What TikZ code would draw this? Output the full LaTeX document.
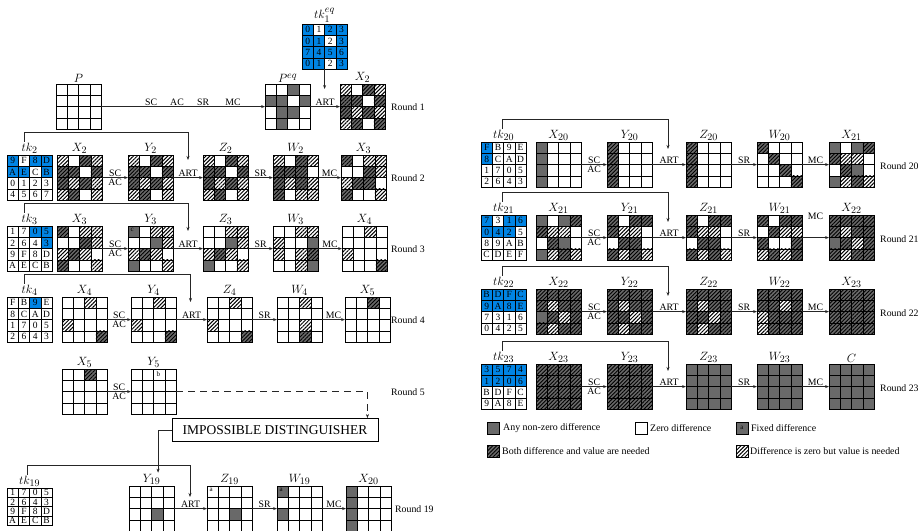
\documentclass[tikz,border=0pt]{standalone}
\usepackage{fontspec}
\setmainfont{Liberation Serif}
\DeclareMathSizes{12.5}{12.5}{10}{8}
\usetikzlibrary{patterns.meta,arrows.meta,calc}
\definecolor{kblue}{RGB}{0,132,228}
\definecolor{cgray}{RGB}{105,105,105}
\tikzset{
  cellbase/.style={draw=black, line width=0.75pt, minimum width=11.3pt, minimum height=11.3pt, inner sep=0pt, outer sep=0pt, anchor=north west, font=\fontsize{9.5}{10}\selectfont},
  cW/.style={cellbase, fill=white},
  cG/.style={cellbase, fill=cgray},
  cD/.style={cellbase, preaction={fill=cgray}, pattern={Lines[angle=45,distance=2.7pt,line width=0.9pt]}, pattern color=black},
  cH/.style={cellbase, preaction={fill=white}, pattern={Lines[angle=45,distance=2.7pt,line width=1pt]}, pattern color=black},
  kB/.style={cellbase, fill=kblue},
  kW/.style={cellbase, fill=white},
  gridbox/.style={draw=black, line width=0.9pt, minimum size=45.2pt, inner sep=0pt, outer sep=0pt},
  glabel/.style={anchor=south, inner sep=1.2pt, font=\fontsize{12.5}{13}\selectfont},
  arr/.style={draw=black!85, line width=0.6pt, -{Stealth[length=4pt,width=3pt]}},
  lab/.style={font=\fontsize{9.8}{10}\selectfont, inner sep=1pt},
  roundlbl/.style={anchor=west, font=\fontsize{9.8}{10}\selectfont, inner sep=0pt},
  fixlbl/.style={font=\fontsize{7}{7}\selectfont, inner sep=0pt},
  legtext/.style={anchor=west, font=\fontsize{9.9}{10}\selectfont, inner sep=0pt},
  legbox/.style={minimum width=12pt, minimum height=12pt, anchor=west},
  impbox/.style={draw=black, line width=0.9pt, minimum width=206pt, minimum height=23pt, inner sep=0pt, font=\fontsize{13.5}{14}\selectfont},
}
\newcommand\stategrid[4]{%
  \foreach \cd [count=\i from 0] in {#4} {%
    \pgfmathtruncatemacro\rr{\i/4}%
    \pgfmathtruncatemacro\cc{\i-4*\rr}%
    \node[c\cd] (#1-\rr\cc) at ({#2+\cc*11.3},{#3+\rr*11.3}) {};%
  }%
  \node[gridbox] (#1) at ({#2+22.6},{#3+22.6}) {};%
}
\newcommand\keygrid[5]{%
  \foreach \ks/\kt [count=\i from 0] in {#5} {%
    \pgfmathtruncatemacro\rr{\i/4}%
    \pgfmathtruncatemacro\cc{\i-4*\rr}%
    \node[k\ks, minimum height=#4pt] (#1-\rr\cc) at ({#2+\cc*11.3},{#3+\rr*#4}) {\kt};%
  }%
  \node[draw=black, line width=0.9pt, minimum width=45.2pt, minimum height={4*#4pt}, inner sep=0pt, outer sep=0pt] (#1) at ({#2+22.6},{#3+2*#4}) {};%
}
\newcommand\glab[2]{\node[glabel] (#1l) at (#1.north) {#2};}
\begin{document}
\begin{tikzpicture}[x=1pt,y=-1pt]
\useasboundingbox (0,0) rectangle (920,530);
% ---------------- Round 1
\keygrid{tk1}{302}{24}{11.3}{B/0,W/1,B/2,B/3,B/0,B/1,W/2,B/3,B/7,B/4,B/5,B/6,B/0,B/1,W/2,B/3}
\glab{tk1}{$tk_1^{eq}$}
\stategrid{P}{56}{84}{W,W,W,W,W,W,W,W,W,W,W,W,W,W,W,W}
\glab{P}{$P$}
\stategrid{Peq}{265}{84}{W,W,G,W,G,G,W,G,W,G,G,W,W,G,W,W}
\glab{Peq}{$P^{eq}$}
\stategrid{Xa}{340}{84}{H,W,D,H,D,D,W,D,D,H,D,H,H,D,W,D}
\glab{Xa}{$X_2$}
\draw[arr] (P) -- node[lab,above,pos=0.305]{SC} node[lab,above,pos=0.463]{AC} node[lab,above,pos=0.622]{SR} node[lab,above,pos=0.805]{MC} (Peq);
\draw[arr] (Peq) -- node[lab,above]{ART} (Xa);
\coordinate (k1) at (324.6,89);
\draw[arr] (tk1) -- (k1);
\node[roundlbl] (r1) at (391,107) {Round 1};
% ---------------- Round 2
\keygrid{tk2}{7}{155}{11.3}{B/9,W/F,B/8,B/D,B/A,B/E,W/C,B/B,W/0,W/1,W/2,W/3,W/4,W/5,W/6,W/7}
\glab{tk2}{$tk_2$}
\stategrid{Xb}{57}{155}{H,W,D,H,D,D,W,D,D,H,D,H,H,D,W,H}
\glab{Xb}{$X_2$}
\stategrid{Yb}{128}{155}{H,W,D,H,D,D,W,D,D,H,D,H,H,D,W,H}
\glab{Yb}{$Y_2$}
\stategrid{Zb}{203}{155}{H,W,D,H,D,D,W,D,D,H,D,H,H,D,W,H}
\glab{Zb}{$Z_2$}
\stategrid{Wb}{273}{155}{H,W,D,H,D,D,D,W,D,H,D,H,D,W,H,H}
\glab{Wb}{$W_2$}
\stategrid{Xc}{341}{155}{D,W,H,H,W,W,D,H,H,D,D,W,D,W,W,H}
\glab{Xc}{$X_3$}
\draw[arr] (Xb) -- node[lab,above]{SC} node[lab,below]{AC} (Yb);
\draw[arr] (Yb) -- node[lab,above]{ART} (Zb);
\draw[arr] (Zb) -- node[lab,above]{SR} (Wb);
\draw[arr] (Wb) -- node[lab,above]{MC} (Xc);
\coordinate (k2) at (188,160);
\draw[arr] ([xshift=-5.5pt]tk2l.north) -- ++(0,-9) -| (k2);
\node[roundlbl] (r2) at (391,178) {Round 2};
% ---------------- Round 3
\keygrid{tk3}{7}{226}{11.3}{W/1,W/7,B/0,B/5,W/2,W/6,W/4,B/3,W/9,W/F,W/8,W/D,W/A,W/E,W/C,W/B}
\glab{tk3}{$tk_3$}
\stategrid{Xd}{57}{226}{D,W,H,H,W,W,D,H,H,D,H,W,D,W,W,H}
\glab{Xd}{$X_3$}
\stategrid{Yd}{128}{226}{G,W,H,H,W,W,G,H,H,D,H,W,G,W,W,H}
\glab{Yd}{$Y_3$}
\node[fixlbl] at ([xshift=-1.5pt,yshift=1.5pt]Yd-00.center) {c};
\stategrid{Zd}{203}{226}{W,W,H,H,W,W,G,H,H,D,H,W,G,W,W,H}
\glab{Zd}{$Z_3$}
\stategrid{Wd}{273}{226}{W,W,H,H,H,W,W,G,H,W,H,D,W,W,H,G}
\glab{Wd}{$W_3$}
\stategrid{Xe}{342}{226}{W,W,H,W,W,W,W,W,H,W,W,W,W,W,W,D}
\glab{Xe}{$X_4$}
\draw[arr] (Xd) -- node[lab,above]{SC} node[lab,below]{AC} (Yd);
\draw[arr] (Yd) -- node[lab,above]{ART} (Zd);
\draw[arr] (Zd) -- node[lab,above]{SR} (Wd);
\draw[arr] (Wd) -- node[lab,above]{MC} (Xe);
\coordinate (k3) at (188,231);
\draw[arr] ([xshift=-5.5pt]tk3l.north) -- ++(0,-9) -| (k3);
\node[roundlbl] (r3) at (391,249) {Round 3};
% ---------------- Round 4
\keygrid{tk4}{7}{297}{11.3}{W/F,W/B,B/9,W/E,W/8,W/C,W/A,W/D,W/1,W/7,W/0,W/5,W/2,W/6,W/4,W/3}
\glab{tk4}{$tk_4$}
\stategrid{Xf}{62}{297}{W,W,H,W,W,W,W,W,H,W,W,W,W,W,W,D}
\glab{Xf}{$X_4$}
\stategrid{Yf}{131}{297}{W,W,H,W,W,W,W,W,H,W,W,W,W,W,W,D}
\glab{Yf}{$Y_4$}
\stategrid{Zf}{207}{297}{W,W,H,W,W,W,W,W,H,W,W,W,W,W,W,D}
\glab{Zf}{$Z_4$}
\stategrid{Wf}{277}{297}{W,W,H,W,W,W,W,W,W,W,H,W,W,W,D,W}
\glab{Wf}{$W_4$}
\stategrid{Xg}{345}{297}{W,W,D,W,W,W,W,W,W,W,W,W,W,W,W,W}
\glab{Xg}{$X_5$}
\draw[arr] (Xf) -- node[lab,above]{SC} node[lab,below]{AC} (Yf);
\draw[arr] (Yf) -- node[lab,above]{ART} (Zf);
\draw[arr] (Zf) -- node[lab,above]{SR} (Wf);
\draw[arr] (Wf) -- node[lab,above]{MC} (Xg);
\coordinate (k4) at (190.5,302);
\draw[arr] ([xshift=-5.5pt]tk4l.north) -- ++(0,-9) -| (k4);
\node[roundlbl] (r4) at (391,320) {Round 4};
% ---------------- Round 5
\stategrid{Xh}{62}{369}{W,W,D,W,W,W,W,W,W,W,W,W,W,W,W,W}
\glab{Xh}{$X_5$}
\stategrid{Yh}{131}{369}{W,W,W,W,W,W,W,W,W,W,W,W,W,W,W,W}
\glab{Yh}{$Y_5$}
\node[fixlbl] at ([xshift=-1pt,yshift=1pt]Yh-02.center) {b};
\draw[arr] (Xh) -- node[lab,above]{SC} node[lab,below]{AC} (Yh);
\node[roundlbl] (r5) at (391,392) {Round 5};
\node[impbox] (imp) at (275,430) {IMPOSSIBLE DISTINGUISHER};
\draw[arr, dash pattern=on 7pt off 5pt] (Yh) -| ([xshift=-11pt]imp.north east);
% ---------------- Round 19
\keygrid{tk19}{7}{488}{9.3}{W/1,W/7,W/0,W/5,W/2,W/6,W/4,W/3,W/9,W/F,W/8,W/D,W/A,W/E,W/C,W/B}
\glab{tk19}{$tk_{19}$}
\stategrid{Ys}{129}{486}{W,W,W,W,W,W,W,W,W,W,G,W,W,W,W,W}
\glab{Ys}{$Y_{19}$}
\stategrid{Zs}{207}{486}{W,W,W,W,W,W,W,W,W,W,G,W,W,W,W,W}
\glab{Zs}{$Z_{19}$}
\node[fixlbl] at ([xshift=-1.5pt,yshift=1.5pt]Zs-00.center) {a};
\stategrid{Ws}{277}{486}{G,W,W,W,W,W,W,W,G,W,W,W,W,W,W,W}
\glab{Ws}{$W_{19}$}
\node[fixlbl] at ([xshift=-1.5pt,yshift=1.5pt]Ws-00.center) {a};
\stategrid{Xt}{346}{486}{G,W,W,W,G,W,W,W,G,W,W,W,G,W,W,W}
\glab{Xt}{$X_{20}$}
\draw[arr] (imp.west) -| ([xshift=6.5pt]Ysl.north);
\draw[arr] (Ys) -- node[lab,above]{ART} (Zs);
\draw[arr] (Zs) -- node[lab,above]{SR} (Ws);
\draw[arr] (Ws) -- node[lab,above]{MC} (Xt);
\coordinate (k19) at (190,497);
\draw[arr] ([xshift=-2.5pt]tk19l.north) -- ++(0,-9) -| (k19);
\node[roundlbl] (r19) at (395,509) {Round 19};
% ---------------- Round 20
\keygrid{tk20}{481}{142}{11.3}{B/F,W/B,W/9,W/E,B/8,W/C,W/A,W/D,W/1,W/7,W/0,W/5,W/2,W/6,W/4,W/3}
\glab{tk20}{$tk_{20}$}
\stategrid{Xu}{536}{142}{G,W,W,W,G,W,W,W,G,W,W,W,G,W,W,W}
\glab{Xu}{$X_{20}$}
\stategrid{Yu}{607}{142}{D,W,W,W,D,W,W,W,D,W,W,W,D,W,W,W}
\glab{Yu}{$Y_{20}$}
\stategrid{Zu}{686}{142}{D,W,W,W,D,W,W,W,D,W,W,W,D,W,W,W}
\glab{Zu}{$Z_{20}$}
\stategrid{Wu}{757}{142}{D,W,W,W,W,D,W,W,W,W,D,W,W,W,W,D}
\glab{Wu}{$W_{20}$}
\stategrid{Xv}{829}{142}{G,W,G,D,D,H,H,W,W,D,G,W,G,H,D,H}
\glab{Xv}{$X_{21}$}
\draw[arr] (Xu) -- node[lab,above]{SC} node[lab,below]{AC} (Yu);
\draw[arr] (Yu) -- node[lab,above]{ART} (Zu);
\draw[arr] (Zu) -- node[lab,above]{SR} (Wu);
\draw[arr] (Wu) -- node[lab,above]{MC} (Xv);
\coordinate (k20) at (668,149);
\draw[arr] ([xshift=-1.5pt]tk20l.north) -- ++(0,-9) -| (k20);
\node[roundlbl] (r20) at (880,166) {Round 20};
% ---------------- Round 21
\keygrid{tk21}{481}{215}{11.3}{B/7,W/3,B/1,B/6,B/0,B/4,B/2,W/5,W/8,W/9,W/A,W/B,W/C,W/D,W/E,W/F}
\glab{tk21}{$tk_{21}$}
\stategrid{Xw}{536}{215}{G,W,G,D,D,H,H,W,W,D,G,W,G,H,D,H}
\glab{Xw}{$X_{21}$}
\stategrid{Yw}{607}{215}{D,W,D,D,D,H,H,W,W,D,D,W,D,H,D,H}
\glab{Yw}{$Y_{21}$}
\stategrid{Zw}{686}{215}{D,W,D,D,D,H,H,W,W,D,D,W,D,H,D,H}
\glab{Zw}{$Z_{21}$}
\stategrid{Ww}{757}{215}{D,W,D,D,W,D,H,H,D,W,W,D,H,D,H,D}
\glab{Ww}{$W_{21}$}
\stategrid{Xx}{829}{215}{D,D,D,D,D,H,D,D,G,D,H,D,D,H,D,D}
\glab{Xx}{$X_{22}$}
\draw[arr] (Xw) -- node[lab,above]{SC} node[lab,below]{AC} (Yw);
\draw[arr] (Yw) -- node[lab,above]{ART} (Zw);
\draw[arr] (Zw) -- node[lab,above]{SR} (Ww);
\draw[arr] (Ww) -- node[lab,above,yshift=17pt]{MC} (Xx);
\coordinate (k21) at (668,222);
\draw[arr] ([xshift=-1.5pt]tk21l.north) -- ++(0,-9) -| (k21);
\node[roundlbl] (r21) at (880,239) {Round 21};
% ---------------- Round 22
\keygrid{tk22}{481}{289}{11.3}{B/B,B/D,B/F,B/C,B/9,B/A,B/8,B/E,W/7,W/3,W/1,W/6,W/0,W/4,W/2,W/5}
\glab{tk22}{$tk_{22}$}
\stategrid{Xy}{536}{289}{D,D,D,D,D,H,D,D,G,D,H,D,D,H,D,D}
\glab{Xy}{$X_{22}$}
\stategrid{Yy}{607}{289}{D,D,D,D,D,H,D,D,D,D,H,D,D,H,D,D}
\glab{Yy}{$Y_{22}$}
\stategrid{Zy}{686}{289}{D,D,D,D,D,H,D,D,D,D,H,D,D,H,D,D}
\glab{Zy}{$Z_{22}$}
\stategrid{Wy}{757}{289}{D,D,D,D,D,D,H,D,H,D,D,D,H,D,D,D}
\glab{Wy}{$W_{22}$}
\stategrid{Xz}{829}{289}{D,D,D,D,D,D,D,D,D,D,D,D,D,D,D,D}
\glab{Xz}{$X_{23}$}
\draw[arr] (Xy) -- node[lab,above]{SC} node[lab,below]{AC} (Yy);
\draw[arr] (Yy) -- node[lab,above]{ART} (Zy);
\draw[arr] (Zy) -- node[lab,above]{SR} (Wy);
\draw[arr] (Wy) -- node[lab,above]{MC} (Xz);
\coordinate (k22) at (668,296);
\draw[arr] ([xshift=-1.5pt]tk22l.north) -- ++(0,-9) -| (k22);
\node[roundlbl] (r22) at (880,313) {Round 22};
% ---------------- Round 23
\keygrid{tk23}{481}{364}{11.3}{B/3,B/5,B/7,B/4,B/1,B/2,B/0,B/6,W/B,W/D,W/F,W/C,W/9,W/A,W/8,W/E}
\glab{tk23}{$tk_{23}$}
\stategrid{Xq}{536}{364}{D,D,D,D,D,D,D,D,D,D,D,D,D,D,D,D}
\glab{Xq}{$X_{23}$}
\stategrid{Yq}{607}{364}{D,D,D,D,D,D,D,D,D,D,D,D,D,D,D,D}
\glab{Yq}{$Y_{23}$}
\stategrid{Zq}{686}{364}{G,G,G,G,G,G,G,G,G,G,G,G,G,G,G,G}
\glab{Zq}{$Z_{23}$}
\stategrid{Wq}{757}{364}{G,G,G,G,G,G,G,G,G,G,G,G,G,G,G,G}
\glab{Wq}{$W_{23}$}
\stategrid{Cq}{829}{364}{G,G,G,G,G,G,G,G,G,G,G,G,G,G,G,G}
\glab{Cq}{$C$}
\draw[arr] (Xq) -- node[lab,above]{SC} node[lab,below]{AC} (Yq);
\draw[arr] (Yq) -- node[lab,above]{ART} (Zq);
\draw[arr] (Zq) -- node[lab,above]{SR} (Wq);
\draw[arr] (Wq) -- node[lab,above]{MC} (Cq);
\coordinate (k23) at (668,371);
\draw[arr] ([xshift=-1.5pt]tk23l.north) -- ++(0,-9) -| (k23);
\node[roundlbl] (r23) at (880,388) {Round 23};
% ---------------- Legend
\node[cG, legbox] (lg1) at (487,428) {};
\node[legtext] (lt1) at (503,428) {Any non-zero difference};
\node[cW, legbox] (lg2) at (635,428) {};
\node[legtext] (lt2) at (650,428) {Zero difference};
\node[cG, legbox] (lg3) at (736,428) {};
\node[fixlbl] at (lg3.center) {a};
\node[legtext] (lt3) at (751,428) {Fixed difference};
\node[cD, legbox] (lg4) at (487,451.5) {};
\node[legtext] (lt4) at (502,451.5) {Both difference and value are needed};
\node[cH, legbox] (lg5) at (736,451.5) {};
\node[legtext] (lt5) at (750,451.5) {Difference is zero but value is needed};
\end{tikzpicture}
\end{document}
